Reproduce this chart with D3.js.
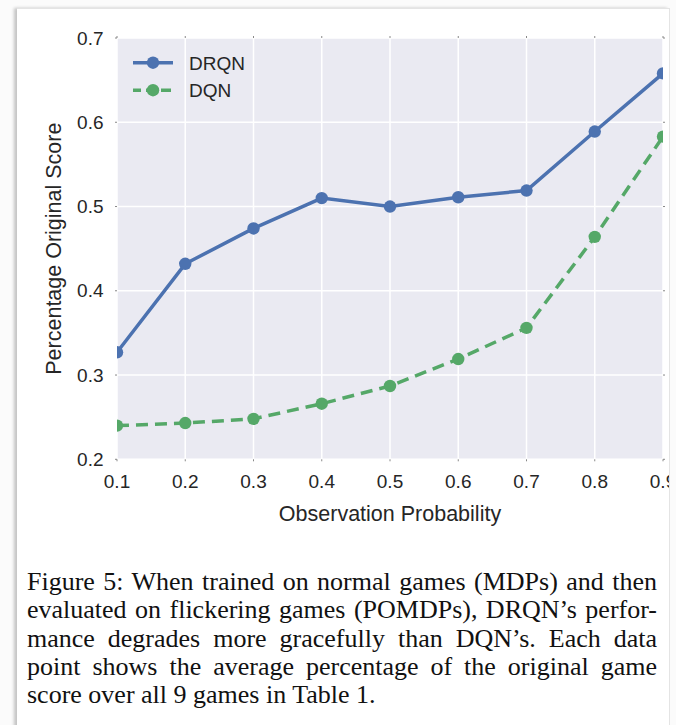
<!DOCTYPE html>
<html>
<head>
<meta charset="utf-8">
<script src="https://cdn.jsdelivr.net/npm/d3@7"></script>
<style>
  html, body { margin: 0; padding: 0; background: #fbfbfb; }
  #wrap { position: relative; width: 676px; height: 725px; overflow: hidden; }
  #panel { position: absolute; left: 17px; top: 8px; width: 652px; height: 730px; background: #fff;
           border-top: 1px solid #e4e4e4; border-right: 1px solid #e4e4e4;
           box-shadow: -3px 0 3px rgba(0,0,0,0.22); }
  svg { position: absolute; left: 0; top: 0; overflow: hidden; }
</style>
</head>
<body>
<div id="wrap"><div id="panel"></div></div>
<script>
// observation probability vs percentage of original score
var probs = [0.1, 0.2, 0.3, 0.4, 0.5, 0.6, 0.7, 0.8, 0.9];
var drqn = [0.327, 0.432, 0.474, 0.510, 0.500, 0.511, 0.519, 0.589, 0.658];
var dqn = [0.240, 0.243, 0.248, 0.266, 0.287, 0.319, 0.356, 0.464, 0.583];
var yTicks = [0.2, 0.3, 0.4, 0.5, 0.6, 0.7];
var seriesNames = ['DRQN', 'DQN'];
var captionLines = [
  'Figure 5: When trained on normal games (MDPs) and then',
  'evaluated on flickering games (POMDPs), DRQN\u2019s perfor-',
  'mance degrades more gracefully than DQN\u2019s. Each data',
  'point shows the average percentage of the original game',
  'score over all 9 games in Table 1.'
];

var W = 669, H = 725;   // cropped at the panel edge, like the screenshot
var pLeft = 117, pRight = 663, pTop = 38, pBottom = 459.3;
var blue = '#4C72B0', green = '#55A868';

var svg = d3.select('#wrap').append('svg').attr('width', W).attr('height', H);

var x = d3.scaleLinear().domain([0.1, 0.9]).range([pLeft, pRight]);
var y = d3.scaleLinear().domain([0.2, 0.7]).range([pBottom, pTop]);

svg.append('defs').append('clipPath').attr('id', 'clip')
  .append('rect').attr('x', pLeft).attr('y', pTop).attr('width', pRight - pLeft).attr('height', pBottom - pTop);

svg.append('rect').attr('x', pLeft).attr('y', pTop).attr('width', pRight - pLeft).attr('height', pBottom - pTop)
  .attr('fill', '#EAEAF2');

var grid = svg.append('g');
grid.selectAll('.vx').data(probs).enter().append('line')
  .attr('x1', function(d){ return x(d); }).attr('x2', function(d){ return x(d); })
  .attr('y1', pTop).attr('y2', pBottom)
  .attr('stroke', '#fff').attr('stroke-width', 1.5);
grid.selectAll('.hy').data(yTicks).enter().append('line')
  .attr('x1', pLeft).attr('x2', pRight)
  .attr('y1', function(d){ return y(d); }).attr('y2', function(d){ return y(d); })
  .attr('stroke', '#fff').attr('stroke-width', 1.5);

// tiny tick marks on all four sides
var tickG = svg.append('g').attr('stroke', '#888').attr('stroke-width', 1);
probs.forEach(function(d){
  tickG.append('line').attr('x1', x(d)).attr('x2', x(d)).attr('y1', pBottom).attr('y2', pBottom + 2);
  tickG.append('line').attr('x1', x(d)).attr('x2', x(d)).attr('y1', pTop - 2).attr('y2', pTop);
});
yTicks.forEach(function(d){
  tickG.append('line').attr('x1', pLeft - 2).attr('x2', pLeft).attr('y1', y(d)).attr('y2', y(d));
  tickG.append('line').attr('x1', pRight).attr('x2', pRight + 2).attr('y1', y(d)).attr('y2', y(d));
});

var font = 'Liberation Sans, Arial, sans-serif';
svg.append('g').selectAll('text').data(probs).enter().append('text')
  .attr('x', function(d){ return x(d); }).attr('y', 488)
  .attr('text-anchor', 'middle').attr('font-family', font).attr('font-size', 19).attr('fill', '#262626')
  .text(function(d){ return d3.format('.1f')(d); });
svg.append('g').selectAll('text').data(yTicks).enter().append('text')
  .attr('x', 103.5).attr('y', function(d){ return y(d) + 6.5; })
  .attr('text-anchor', 'end').attr('font-family', font).attr('font-size', 19).attr('fill', '#262626')
  .text(function(d){ return d3.format('.1f')(d); });

svg.append('text').attr('x', (pLeft + pRight) / 2).attr('y', 521)
  .attr('text-anchor', 'middle').attr('font-family', font).attr('font-size', 21.5).attr('fill', '#262626')
  .text('Observation Probability');
svg.append('text').attr('transform', 'translate(60.5,' + ((pTop + pBottom) / 2) + ') rotate(-90)')
  .attr('text-anchor', 'middle').attr('font-family', font).attr('font-size', 21.5).attr('fill', '#262626')
  .text('Percentage Original Score');

var series = [
  {name: seriesNames[0], values: drqn, color: blue, dash: null},
  {name: seriesNames[1], values: dqn, color: green, dash: '12,7'}
];

var line = d3.line().x(function(d){ return x(d[0]); }).y(function(d){ return y(d[1]); });
var plotG = svg.append('g').attr('clip-path', 'url(#clip)');
series.forEach(function(s){
  var pts = probs.map(function(p, i){ return [p, s.values[i]]; });
  plotG.append('path').attr('d', line(pts)).attr('fill', 'none')
    .attr('stroke', s.color).attr('stroke-width', 3.5)
    .attr('stroke-dasharray', s.dash);
  plotG.selectAll(null).data(pts).enter().append('circle')
    .attr('cx', function(d){ return x(d[0]); }).attr('cy', function(d){ return y(d[1]); })
    .attr('r', 6.2).attr('fill', s.color);
});

// legend
var leg = svg.append('g');
series.forEach(function(s, i){
  var ly = 62.7 + i * 27.5;
  leg.append('line').attr('x1', 133).attr('x2', 173).attr('y1', ly).attr('y2', ly)
    .attr('stroke', s.color).attr('stroke-width', 3.5).attr('stroke-dasharray', s.dash ? '10,5' : null)
    .attr('stroke-dashoffset', s.dash ? 2 : null);
  leg.append('circle').attr('cx', 153).attr('cy', ly).attr('r', 6.2).attr('fill', s.color);
  leg.append('text').attr('x', 189).attr('y', ly + 6.8)
    .attr('font-family', font).attr('font-size', 19).attr('fill', '#262626').text(s.name);
});

// caption, justified line by line
var capX = 27, capW = 630;
captionLines.forEach(function(t, i){
  var el = svg.append('text').attr('x', capX).attr('y', 590 + i * 28.3)
    .attr('font-family', 'Liberation Serif, Times New Roman, serif').attr('font-size', 26)
    .attr('fill', '#111').text(t);
  if (i < captionLines.length - 1) {
    var natural = el.node().getComputedTextLength();
    var gaps = t.split(' ').length - 1;
    el.attr('word-spacing', (capW - natural) / gaps);
  }
});
</script>
</body>
</html>
